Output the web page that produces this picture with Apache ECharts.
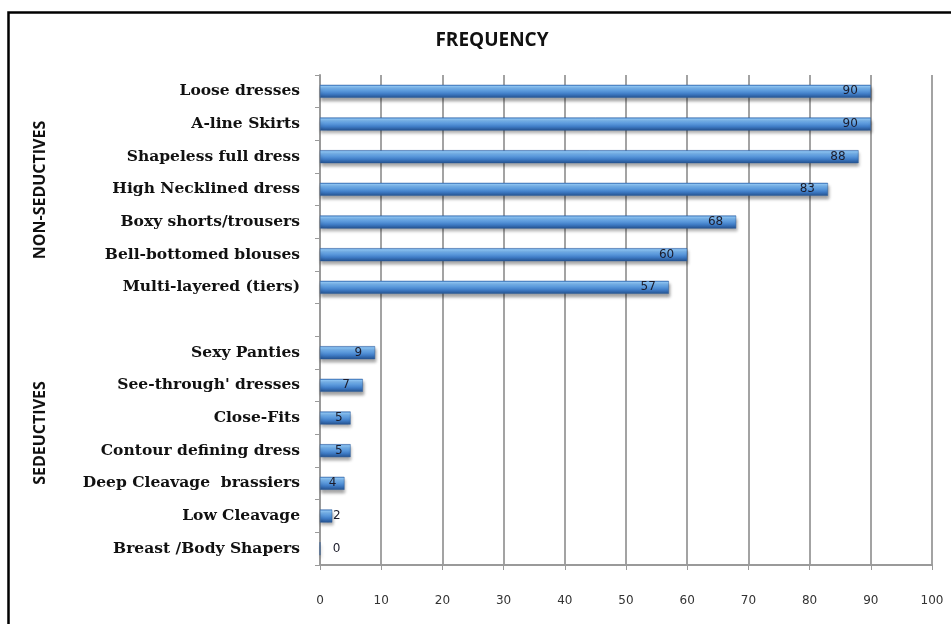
<!DOCTYPE html>
<html>
<head>
<meta charset="utf-8">
<script src="https://cdn.jsdelivr.net/npm/echarts@6/dist/echarts.min.js"></script>
<style>
  html, body { margin: 0; padding: 0; background: #fff; }
  #chart { width: 951px; height: 624px; }
</style>
</head>
<body>
<div id="chart"></div>
<script>
// Garment types, top to bottom; the empty entry separates the two groups
const categories = [
  'Loose dresses', 'A-line Skirts', 'Shapeless full dress', 'High Necklined dress',
  'Boxy shorts/trousers', 'Bell-bottomed blouses', 'Multi-layered (tiers)',
  '',
  'Sexy Panties', "See-through' dresses", 'Close-Fits', 'Contour defining dress',
  'Deep Cleavage  brassiers', 'Low Cleavage', 'Breast /Body Shapers'
];
const frequency = [90, 90, 88, 83, 68, 60, 57, null, 9, 7, 5, 5, 4, 2, 0];
const groupNames = ['NON-SEDUCTIVES', 'SEDEUCTIVES'];
const xTicks = [0, 10, 20, 30, 40, 50, 60, 70, 80, 90, 100];

const barFill = new echarts.graphic.LinearGradient(0, 0, 0, 1, [
  { offset: 0, color: '#3b78c4' },
  { offset: 0.12, color: '#8ec6f6' },
  { offset: 0.35, color: '#6aa9e8' },
  { offset: 0.7, color: '#3f7cc6' },
  { offset: 1, color: '#23508c' }
]);

const barData = frequency.map(v => {
  if (v === null) return { value: null, label: { show: false } };
  const small = v < 3;
  return {
    value: v,
    label: small
      ? { position: 'insideLeft', distance: 13 }
      : { position: 'insideRight', distance: v < 6 ? 8 : 13 }
  };
});

const chart = echarts.init(document.getElementById('chart'));
chart.setOption({
  backgroundColor: '#fff',
  animation: false,
  title: {
    text: 'FREQUENCY',
    left: 487, top: 26, textAlign: 'center',
    textStyle: { fontFamily: 'Open Sans', fontWeight: 'bold', fontSize: 19, color: '#111' }
  },
  grid: { left: 320, right: 19, top: 75, bottom: 59 },
  xAxis: {
    type: 'value', min: 0, max: 100, interval: 10,
    axisLine: { show: true, lineStyle: { color: '#9a9a9a', width: 2 } },
    axisTick: { show: true, length: 5, lineStyle: { color: '#9a9a9a', width: 1 } },
    axisLabel: {
      margin: 30, color: '#333', fontFamily: 'DejaVu Sans', fontSize: 12,
      formatter: v => xTicks.includes(v) ? String(v) : ''
    },
    splitLine: { show: true, lineStyle: { color: '#a3a3a3', width: 2 } }
  },
  yAxis: {
    type: 'category', inverse: true, data: categories,
    axisLine: { show: true, lineStyle: { color: '#9a9a9a', width: 2 } },
    axisTick: { show: true, length: 5, lineStyle: { color: '#9a9a9a' } },
    axisLabel: {
      margin: 20, color: '#111', fontFamily: 'DejaVu Serif', fontWeight: 'bold', fontSize: 15.5
    }
  },
  series: [{
    type: 'bar',
    data: barData,
    barWidth: 13,
    itemStyle: {
      color: barFill,
      borderColor: '#2c5f9e', borderWidth: 0.5,
      shadowColor: 'rgba(0,0,0,0.35)', shadowBlur: 3, shadowOffsetY: 3, shadowOffsetX: 1
    },
    label: {
      show: true, color: '#1b1b2a', fontFamily: 'DejaVu Sans', fontSize: 12
    }
  }],
  graphic: [
    {
      type: 'rect', left: 6, top: 10, z: 10, silent: true,
      shape: { width: 960, height: 640 },
      style: { fill: 'none', stroke: '#000', lineWidth: 2.5 }
    },
    {
      type: 'text', x: 40, y: 190, rotation: Math.PI / 2, z: 10,
      style: {
        text: groupNames[0], fill: '#111', font: 'bold 16px "Open Sans"',
        textAlign: 'center', textVerticalAlign: 'middle'
      }
    },
    {
      type: 'text', x: 40, y: 433, rotation: Math.PI / 2, z: 10,
      style: {
        text: groupNames[1], fill: '#111', font: 'bold 16px "Open Sans"',
        textAlign: 'center', textVerticalAlign: 'middle'
      }
    }
  ]
});
</script>
</body>
</html>
